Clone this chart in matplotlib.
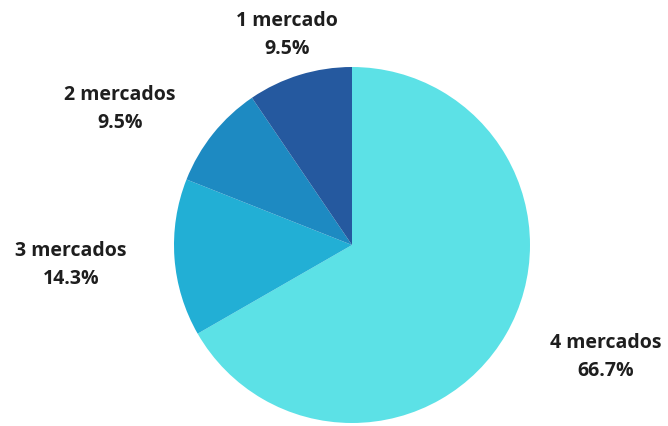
import matplotlib
matplotlib.use("Agg")
import matplotlib.pyplot as plt

# market-count shares
labels = ["4 mercados", "3 mercados", "2 mercados", "1 mercado"]
shares = [66.7, 14.3, 9.5, 9.5]
colors = ["#5CE1E6", "#22AFD5", "#1D8AC2", "#25599F"]

# label block centres in pixel space (x, y from bottom)
label_pos = [(606, 69), (71, 161), (120, 317), (287, 391)]

plt.rcParams["font.family"] = ["Open Sans", "DejaVu Sans"]

fig = plt.figure(figsize=(6.68, 4.26), dpi=100)
ax = fig.add_axes([0, 0, 1, 1])

ax.pie(shares, colors=colors, startangle=90, counterclock=False,
       center=(352, 181), radius=178, frame=True,
       wedgeprops=dict(linewidth=0))
ax.set_xlim(0, 668)
ax.set_ylim(0, 426)
ax.set_aspect("equal")
ax.axis("off")

for lab, val, (x, y) in zip(labels, shares, label_pos):
    ax.text(x, y, f"{lab}\n{val:.1f}%", ha="center", va="center",
            fontsize=14, fontweight="bold", color="#1e1e1e",
            linespacing=1.5)

fig.savefig("out.png", dpi=100)
